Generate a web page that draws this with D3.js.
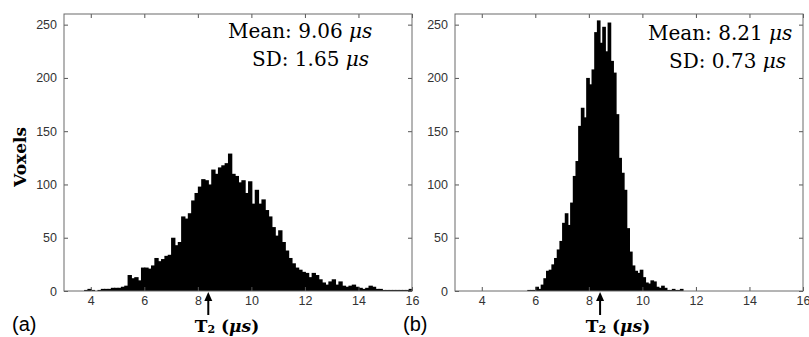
<!DOCTYPE html>
<html>
<head>
<meta charset="utf-8">
<script src="https://cdn.jsdelivr.net/npm/d3@7"></script>
<style>
  body { margin: 0; background: #fff; }
  svg { display: block; }
  .tick text { font-family: "Liberation Sans", Arial, sans-serif; font-size: 12.5px; fill: #333; }
  .tick line { stroke: #555; }
</style>
</head>
<body>
<div id="chart"></div>
<script>
// histogram (a): bins of 0.125 us starting at 3.75
const binStartA = 3.75;
const binWidthA = 0.125;
const countsA = [
  1, 2, 1, 0, 1, 2, 2, 2, 3, 3, 3, 4, 5, 15, 12, 13, 10, 22, 22, 21,
  24, 31, 28, 30, 33, 34, 50, 43, 46, 70, 68, 73, 85, 92, 98, 105, 104, 100, 114, 110,
  116, 118, 120, 129, 110, 108, 102, 104, 92, 103, 82, 95, 82, 86, 76, 70, 60, 52, 57, 46,
  38, 31, 26, 22, 20, 18, 17, 13, 17, 15, 11, 8, 6, 9, 11, 6, 9, 5, 4, 5,
  6, 4, 3, 2, 3, 5, 4, 2, 2, 1, 1, 1, 1, 1, 1, 1, 1, 2
];

// histogram (b): bins of 0.1 us starting at 5.6
const binStartB = 5.6;
const binWidthB = 0.1;
const countsB = [
  0, 1, 1, 1, 4, 2, 6, 12, 19, 20, 25, 31, 39, 47,
  64, 73, 62, 83, 108, 122, 155, 172, 163, 200, 194, 208, 243, 254, 233, 248,
  225, 252, 216, 205, 166, 125, 111, 95, 59, 37, 24, 19, 17, 20, 13, 8, 7, 10, 9, 4,
  3, 5, 3, 1, 1, 2, 1, 1, 2
];

const panelLabels = ['(a)', '(b)'];
const means = ['9.06', '8.21'];
const sds = ['1.65', '0.73'];
const arrowValues = [8.39, 8.42];
const xTicks = [4, 6, 8, 10, 12, 14, 16];
const yTicks = [0, 50, 100, 150, 200, 250];
const xDomain = [3, 16];
const yDomain = [0, 260];

const W = 809, H = 337;
const svg = d3.select('#chart').append('svg').attr('width', W).attr('height', H);

const plotW = 348, plotH = 277, plotTop = 14;
const panels = [
  { left: 64, counts: countsA, start: binStartA, width: binWidthA, meanX: 228, sdX: 252, meanY: 38, sdY: 66 },
  { left: 455, counts: countsB, start: binStartB, width: binWidthB, meanX: 648, sdX: 669, meanY: 40, sdY: 68 }
];

panels.forEach((p, i) => {
  const x = d3.scaleLinear().domain(xDomain).range([0, plotW]);
  const y = d3.scaleLinear().domain(yDomain).range([plotH, 0]);
  const g = svg.append('g').attr('transform', `translate(${p.left}, ${plotTop})`);

  // bars (slightly widened so neighbours overlap and no seams show)
  const bw = x(p.width) - x(0);
  g.append('g').selectAll('rect')
    .data(p.counts)
    .enter()
    .append('rect')
    .attr('x', (d, k) => x(p.start + k * p.width))
    .attr('y', d => y(d))
    .attr('width', bw + 1)
    .attr('height', d => plotH - y(d))
    .attr('fill', '#000');

  // axes, ticks pointing inwards
  g.append('g').attr('transform', `translate(0, ${plotH})`)
    .call(d3.axisBottom(x).tickValues(xTicks).tickSizeInner(-4).tickSizeOuter(0).tickPadding(5));
  g.append('g')
    .call(d3.axisTop(x).tickValues(xTicks).tickSizeInner(-4).tickSizeOuter(0).tickFormat(''));
  g.append('g')
    .call(d3.axisLeft(y).tickValues(yTicks).tickSizeInner(-4).tickSizeOuter(0).tickPadding(7));
  g.append('g').attr('transform', `translate(${plotW}, 0)`)
    .call(d3.axisRight(y).tickValues(yTicks).tickSizeInner(-4).tickSizeOuter(0).tickFormat(''));
  g.selectAll('.domain').remove();

  // frame
  g.append('rect')
    .attr('width', plotW).attr('height', plotH)
    .attr('fill', 'none').attr('stroke', '#6a6a6a').attr('stroke-width', 1);

  // arrow under axis
  const ax = x(arrowValues[i]);
  g.append('line')
    .attr('x1', ax).attr('x2', ax)
    .attr('y1', plotH + 24).attr('y2', plotH + 8)
    .attr('stroke', '#000').attr('stroke-width', 2);
  g.append('path')
    .attr('d', `M${ax},${plotH + 1}L${ax - 4},${plotH + 10}L${ax + 4},${plotH + 10}Z`)
    .attr('fill', '#000');

  // x label
  const xl = svg.append('text')
    .attr('x', p.left + 163).attr('y', 332)
    .attr('text-anchor', 'middle')
    .attr('font-family', '"DejaVu Serif", serif')
    .attr('font-weight', 'bold')
    .attr('font-size', 17);
  xl.append('tspan').text('T');
  xl.append('tspan').attr('font-size', 11).attr('dy', 1).text('2');
  xl.append('tspan').attr('dy', -1).text(' (');
  xl.append('tspan').attr('font-style', 'italic').text('μs');
  xl.append('tspan').text(')');

  // panel label
  svg.append('text')
    .attr('x', p.left - 52).attr('y', 331)
    .attr('font-family', '"Liberation Sans", Arial, sans-serif')
    .attr('font-size', 20)
    .text(panelLabels[i]);

  // stats
  const mean = svg.append('text')
    .attr('x', p.meanX).attr('y', p.meanY)
    .attr('font-family', '"DejaVu Serif", serif')
    .attr('font-size', 20);
  mean.append('tspan').text(`Mean: ${means[i]} `);
  mean.append('tspan').attr('font-style', 'italic').text('μs');
  const sd = svg.append('text')
    .attr('x', p.sdX).attr('y', p.sdY)
    .attr('font-family', '"DejaVu Serif", serif')
    .attr('font-size', 20);
  sd.append('tspan').text(`SD: ${sds[i]} `);
  sd.append('tspan').attr('font-style', 'italic').text('μs');
});

// y label only on the first panel
svg.append('text')
  .attr('transform', 'translate(26, 157) rotate(-90)')
  .attr('text-anchor', 'middle')
  .attr('font-family', '"DejaVu Serif", serif')
  .attr('font-weight', 'bold')
  .attr('font-size', 17)
  .text('Voxels');
</script>
</body>
</html>
